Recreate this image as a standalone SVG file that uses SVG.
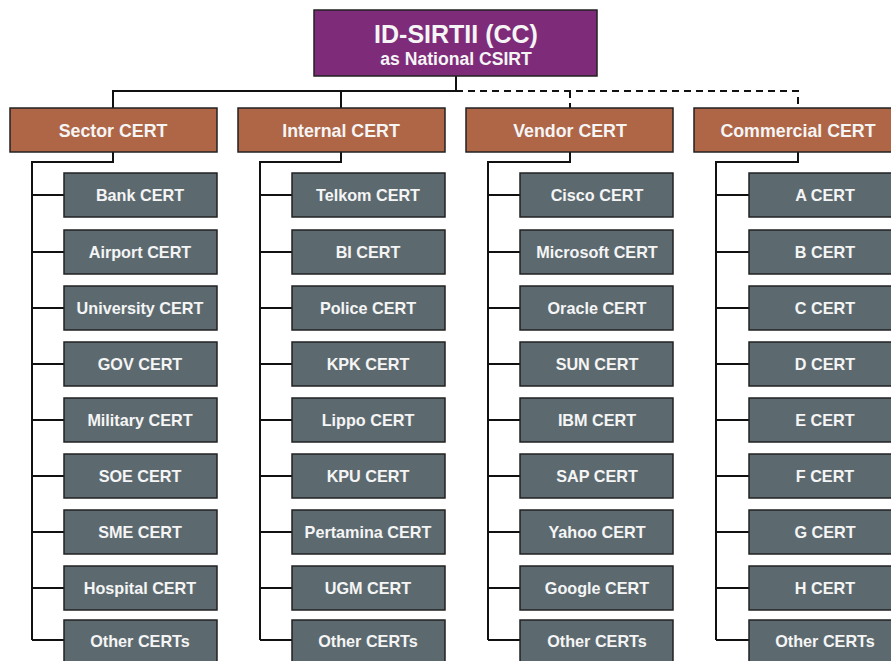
<svg xmlns="http://www.w3.org/2000/svg" width="891" height="661" viewBox="0 0 891 661">
<style>
.box{stroke:#222;stroke-width:1.5}
.root{fill:#7e2b7a}
.grp{fill:#ae6647}
.leaf{fill:#5c6a70}
text{font-family:"Liberation Sans",Arial,sans-serif;font-weight:bold;fill:#f5f5f5;text-anchor:middle}
.t1{font-size:25px}
.t2{font-size:17.6px}
.tg{font-size:17.8px}
.tl{font-size:16.2px}
.ln{stroke:#111;stroke-width:2;fill:none}
.dash{stroke:#111;stroke-width:2;fill:none;stroke-dasharray:7,5}
</style>
<rect width="891" height="661" fill="#fff"/>
<g id="connectors">
<path class="ln" d="M456 76V91H113V108M341 91V108"/>
<path class="dash" d="M456 91H798V108M570 91V108"/>
<path class="ln" d="M113 152V162H32V640M32 195H64M32 252H64M32 308H64M32 364H64M32 420H64M32 476H64M32 532H64M32 588H64M32 640H64"/>
<path class="ln" d="M341 152V162H260V640M260 195H292M260 252H292M260 308H292M260 364H292M260 420H292M260 476H292M260 532H292M260 588H292M260 640H292"/>
<path class="ln" d="M570 152V162H488V640M488 195H520M488 252H520M488 308H520M488 364H520M488 420H520M488 476H520M488 532H520M488 588H520M488 640H520"/>
<path class="ln" d="M798 152V162H716V640M716 195H749M716 252H749M716 308H749M716 364H749M716 420H749M716 476H749M716 532H749M716 588H749M716 640H749"/>
</g>
<g id="root"><rect class="box root" x="314" y="10" width="283" height="66"/><text class="t1" x="456" y="43">ID-SIRTII (CC)</text><text class="t2" x="456" y="65">as National CSIRT</text></g>
<g id="sector"><rect class="box grp" x="10" y="108" width="207" height="44"/><text class="tg" x="113" y="137">Sector CERT</text></g>
<g id="internal"><rect class="box grp" x="238" y="108" width="207" height="44"/><text class="tg" x="341" y="137">Internal CERT</text></g>
<g id="vendor"><rect class="box grp" x="466" y="108" width="207" height="44"/><text class="tg" x="570" y="137">Vendor CERT</text></g>
<g id="commercial"><rect class="box grp" x="694" y="108" width="207" height="44"/><text class="tg" x="798" y="137">Commercial CERT</text></g>
<g id="bank"><rect class="box leaf" x="64" y="173" width="153" height="44"/><text class="tl" x="140" y="201">Bank CERT</text></g>
<g id="airport"><rect class="box leaf" x="64" y="230" width="153" height="44"/><text class="tl" x="140" y="258">Airport CERT</text></g>
<g id="university"><rect class="box leaf" x="64" y="286" width="153" height="44"/><text class="tl" x="140" y="314">University CERT</text></g>
<g id="gov"><rect class="box leaf" x="64" y="342" width="153" height="44"/><text class="tl" x="140" y="370">GOV CERT</text></g>
<g id="military"><rect class="box leaf" x="64" y="398" width="153" height="44"/><text class="tl" x="140" y="426">Military CERT</text></g>
<g id="soe"><rect class="box leaf" x="64" y="454" width="153" height="44"/><text class="tl" x="140" y="482">SOE CERT</text></g>
<g id="sme"><rect class="box leaf" x="64" y="510" width="153" height="44"/><text class="tl" x="140" y="538">SME CERT</text></g>
<g id="hospital"><rect class="box leaf" x="64" y="566" width="153" height="44"/><text class="tl" x="140" y="594">Hospital CERT</text></g>
<g id="other1"><rect class="box leaf" x="64" y="620" width="153" height="44"/><text class="tl" x="140" y="647">Other CERTs</text></g>
<g id="telkom"><rect class="box leaf" x="292" y="173" width="153" height="44"/><text class="tl" x="368" y="201">Telkom CERT</text></g>
<g id="bi"><rect class="box leaf" x="292" y="230" width="153" height="44"/><text class="tl" x="368" y="258">BI CERT</text></g>
<g id="police"><rect class="box leaf" x="292" y="286" width="153" height="44"/><text class="tl" x="368" y="314">Police CERT</text></g>
<g id="kpk"><rect class="box leaf" x="292" y="342" width="153" height="44"/><text class="tl" x="368" y="370">KPK CERT</text></g>
<g id="lippo"><rect class="box leaf" x="292" y="398" width="153" height="44"/><text class="tl" x="368" y="426">Lippo CERT</text></g>
<g id="kpu"><rect class="box leaf" x="292" y="454" width="153" height="44"/><text class="tl" x="368" y="482">KPU CERT</text></g>
<g id="pertamina"><rect class="box leaf" x="292" y="510" width="153" height="44"/><text class="tl" x="368" y="538">Pertamina CERT</text></g>
<g id="ugm"><rect class="box leaf" x="292" y="566" width="153" height="44"/><text class="tl" x="368" y="594">UGM CERT</text></g>
<g id="other2"><rect class="box leaf" x="292" y="620" width="153" height="44"/><text class="tl" x="368" y="647">Other CERTs</text></g>
<g id="cisco"><rect class="box leaf" x="520" y="173" width="153" height="44"/><text class="tl" x="597" y="201">Cisco CERT</text></g>
<g id="microsoft"><rect class="box leaf" x="520" y="230" width="153" height="44"/><text class="tl" x="597" y="258">Microsoft CERT</text></g>
<g id="oracle"><rect class="box leaf" x="520" y="286" width="153" height="44"/><text class="tl" x="597" y="314">Oracle CERT</text></g>
<g id="sun"><rect class="box leaf" x="520" y="342" width="153" height="44"/><text class="tl" x="597" y="370">SUN CERT</text></g>
<g id="ibm"><rect class="box leaf" x="520" y="398" width="153" height="44"/><text class="tl" x="597" y="426">IBM CERT</text></g>
<g id="sap"><rect class="box leaf" x="520" y="454" width="153" height="44"/><text class="tl" x="597" y="482">SAP CERT</text></g>
<g id="yahoo"><rect class="box leaf" x="520" y="510" width="153" height="44"/><text class="tl" x="597" y="538">Yahoo CERT</text></g>
<g id="google"><rect class="box leaf" x="520" y="566" width="153" height="44"/><text class="tl" x="597" y="594">Google CERT</text></g>
<g id="other3"><rect class="box leaf" x="520" y="620" width="153" height="44"/><text class="tl" x="597" y="647">Other CERTs</text></g>
<g id="a"><rect class="box leaf" x="749" y="173" width="153" height="44"/><text class="tl" x="825" y="201">A CERT</text></g>
<g id="b"><rect class="box leaf" x="749" y="230" width="153" height="44"/><text class="tl" x="825" y="258">B CERT</text></g>
<g id="c"><rect class="box leaf" x="749" y="286" width="153" height="44"/><text class="tl" x="825" y="314">C CERT</text></g>
<g id="d"><rect class="box leaf" x="749" y="342" width="153" height="44"/><text class="tl" x="825" y="370">D CERT</text></g>
<g id="e"><rect class="box leaf" x="749" y="398" width="153" height="44"/><text class="tl" x="825" y="426">E CERT</text></g>
<g id="f"><rect class="box leaf" x="749" y="454" width="153" height="44"/><text class="tl" x="825" y="482">F CERT</text></g>
<g id="g"><rect class="box leaf" x="749" y="510" width="153" height="44"/><text class="tl" x="825" y="538">G CERT</text></g>
<g id="h"><rect class="box leaf" x="749" y="566" width="153" height="44"/><text class="tl" x="825" y="594">H CERT</text></g>
<g id="other4"><rect class="box leaf" x="749" y="620" width="153" height="44"/><text class="tl" x="825" y="647">Other CERTs</text></g>
</svg>
